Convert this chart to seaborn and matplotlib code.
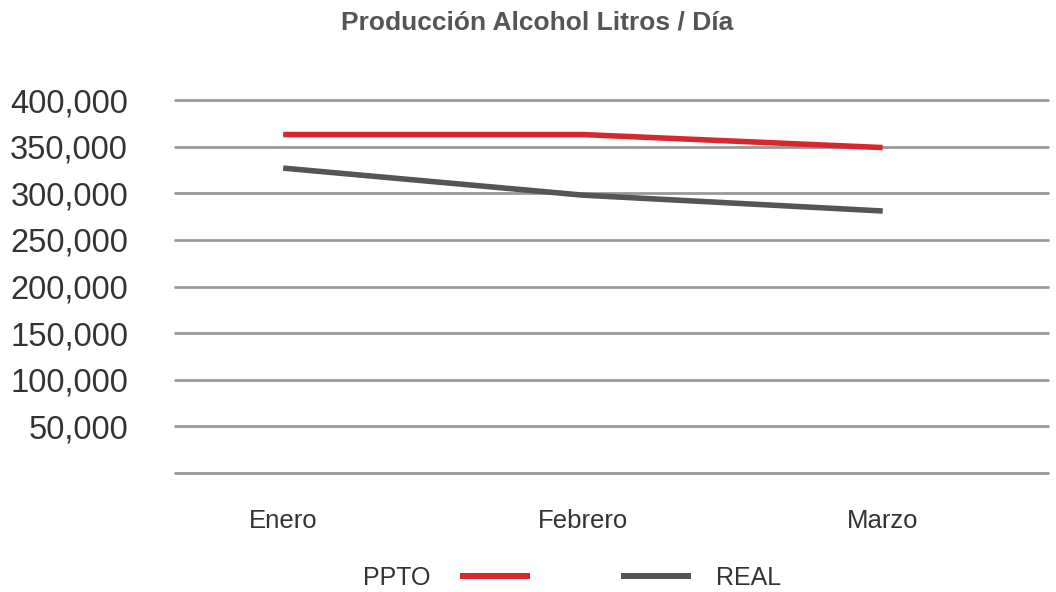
#!/usr/bin/env python

from matplotlib import pyplot as plt
from matplotlib.lines import Line2D
import pandas as pd
import seaborn as sns

sns.set_theme(style="whitegrid")
plt.rcParams['font.family'] = ['Liberation Sans', 'DejaVu Sans']

months = ["Enero", "Febrero", "Marzo"]
ppto = [363000, 363000, 349000]
real = [327000, 298000, 281000]
y_ticks = [0, 50000, 100000, 150000, 200000, 250000, 300000, 350000, 400000]

colors = {"PPTO": "#d7262e", "REAL": "#555555"}


def make_plot():
    rows = []
    for i, m in enumerate(months):
        rows.append((i, m, ppto[i], "PPTO"))
        rows.append((i, m, real[i], "REAL"))
    data = pd.DataFrame(rows, columns=["Pos", "Mes", "Litros", "Serie"])

    fig = plt.figure(figsize=(10.56, 5.92), dpi=100)
    ax = fig.add_axes([0.166, 0.201, 0.826, 0.630])
    sns.lineplot(data=data, x="Pos", y="Litros", hue="Serie", palette=colors,
                 linewidth=4.0, legend=False, ax=ax)
    for ln in ax.get_lines():
        ln.set_solid_capstyle("butt")
        ln.set_solid_joinstyle("round")

    ax.set_xlim(-0.36, 2.55)
    ax.set_ylim(0, 400000)
    ax.set_yticks(y_ticks)
    ax.set_yticklabels(["" if v == 0 else f"{v:,}" for v in y_ticks],
                       fontsize=23.5, color="#333333")
    ax.set_xticks(range(len(months)))
    ax.set_xticklabels(months, fontsize=18.5, color="#333333")
    ax.tick_params(axis="x", pad=26, length=0)
    ax.tick_params(axis="y", pad=34, length=0)
    ax.grid(axis="x", visible=False)
    ax.grid(axis="y", color="#999999", linewidth=2.0)
    for g in ax.get_ygridlines():
        g.set_clip_on(False)
    for s in ax.spines.values():
        s.set_visible(False)
    ax.set_xlabel("")
    ax.set_ylabel("")

    fig.text(0.509, 0.962, "Producción Alcohol Litros / Día", ha="center", va="center",
             fontsize=19, fontweight="bold", color="#555555")

    h1 = [Line2D([], [], color=colors["PPTO"], linewidth=4.3, solid_capstyle="butt")]
    h2 = [Line2D([], [], color=colors["REAL"], linewidth=4.3, solid_capstyle="butt")]
    leg1 = fig.legend(h1, ["PPTO"], loc="center", bbox_to_anchor=(0.423, 0.024),
                      markerfirst=False, frameon=False, fontsize=18,
                      handlelength=2.8, handletextpad=1.2)
    for t in leg1.get_texts():
        t.set_color("#333333")
    leg2 = fig.legend(h2, ["REAL"], loc="center", bbox_to_anchor=(0.664, 0.024),
                      frameon=False, fontsize=18,
                      handlelength=2.8, handletextpad=1.0)
    for t in leg2.get_texts():
        t.set_color("#333333")

    plt.savefig("out.png", dpi=100)


if __name__ == "__main__":
    make_plot()
